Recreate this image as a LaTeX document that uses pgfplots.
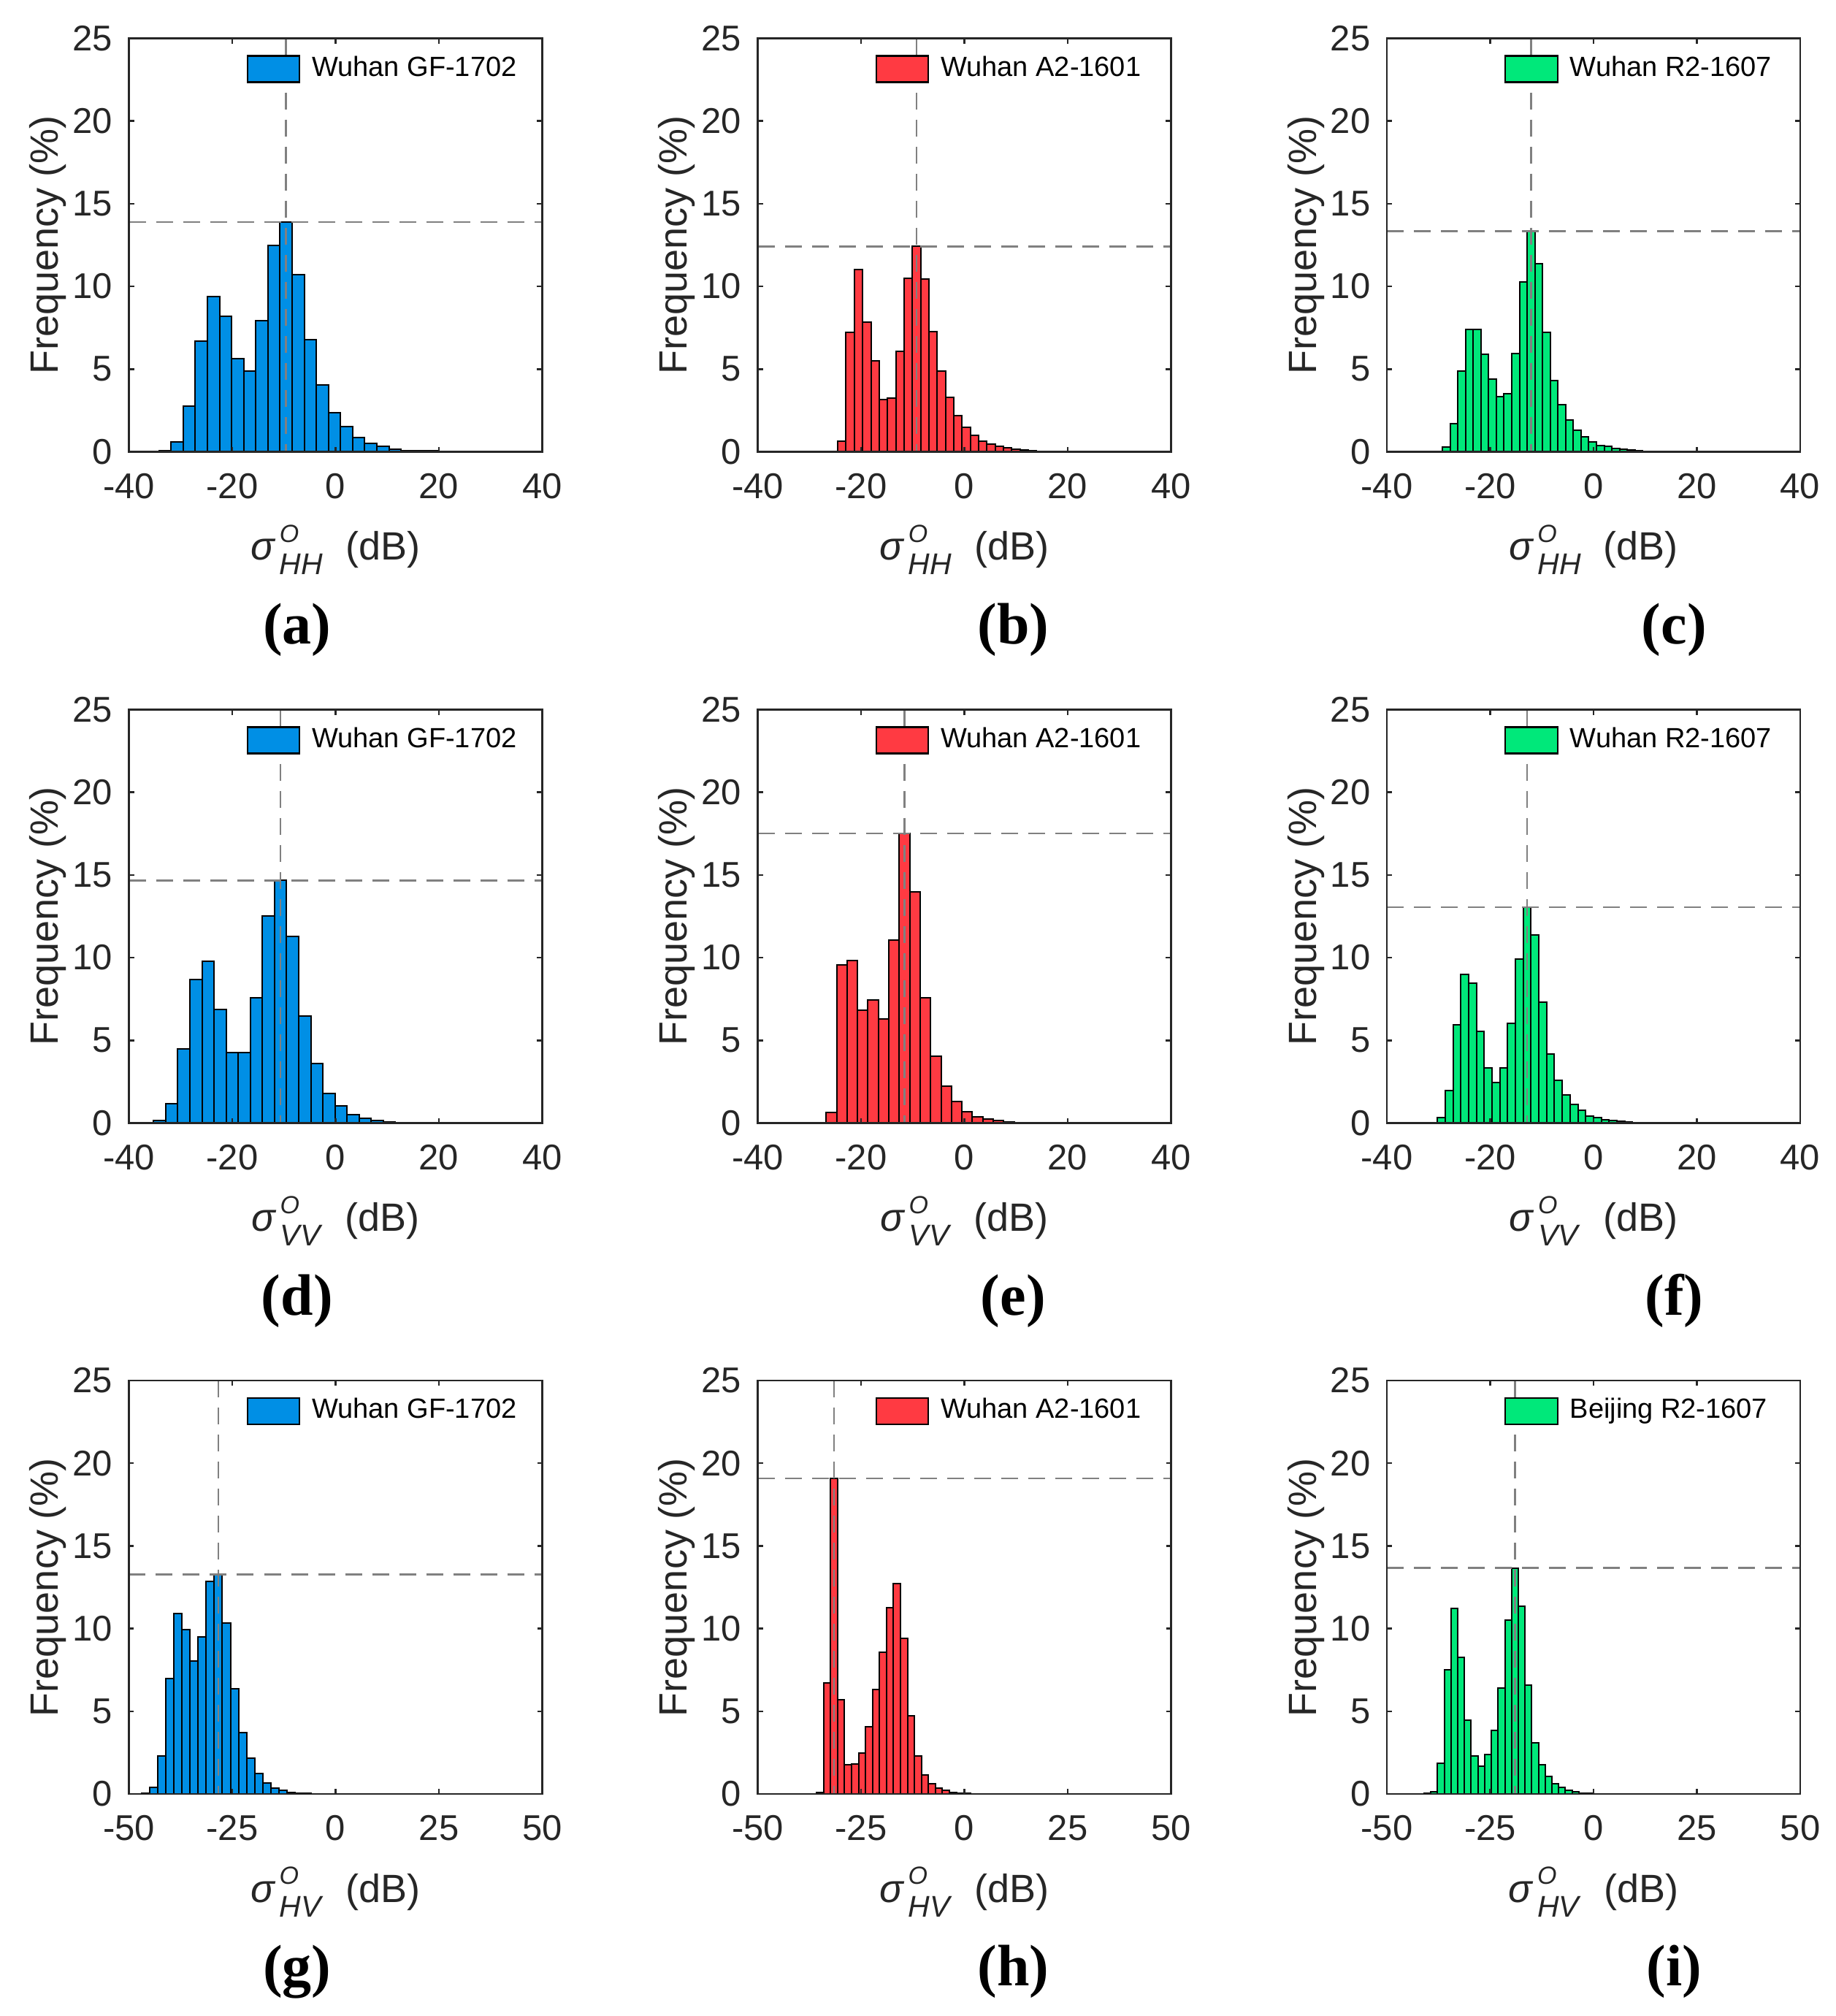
\documentclass[border=0pt]{standalone}
\usepackage{fontspec}
\setmainfont{Liberation Sans}
\newfontfamily\serifbf{Liberation Serif}
\usepackage{pgfplots}
\pgfplotsset{compat=1.18}
\definecolor{axgray}{HTML}{262626}
\definecolor{dashgray}{HTML}{808080}
\definecolor{cblue}{HTML}{008FE5}
\definecolor{cred}{HTML}{FF3A42}
\definecolor{cgreen}{HTML}{00E87A}
\newcommand{\sig}[1]{\textit{σ}\kern1pt\rlap{\raisebox{4.9pt}{\fontsize{6.8}{7}\selectfont\textit{O}}}\raisebox{-4pt}{\fontsize{8.2}{9}\selectfont\textit{#1}}\hspace{6.2pt}(dB)}
\pgfplotsset{
 myhist/.style={
  scale only axis, width=113.2pt, height=113.2pt,
  ymin=0, ymax=25, ytick={0,5,10,15,20,25},
  yticklabels={0,5,10,15,20,25},
  tick align=inside, major tick length=1.4pt,
  axis line style={draw=axgray, line width=0.5pt},
  tick style={draw=axgray, line width=0.5pt},
  tick label style={font=\fontsize{9.8}{11}\selectfont, text=axgray},
  xticklabel style={yshift=-2.4pt},
  yticklabel style={xshift=-1pt},
  axis on top,
  every axis y label/.style={at={(axis description cs:-0.196,0.5)}, rotate=90, anchor=center, font=\fontsize{10.8}{13}\selectfont, text=axgray},
  every axis x label/.style={at={(axis description cs:0.5,-0.262)}, anchor=base, inner sep=0pt, font=\fontsize{10.8}{13}\selectfont, text=axgray},
  every axis title/.style={anchor=center, inner sep=0pt, font=\serifbf\bfseries\fontsize{16}{18}\selectfont, text=black},
  ylabel={Frequency (\%)},
  legend style={draw=none, fill=none, inner xsep=0pt, inner ysep=0pt, at={(axis description cs:0.283,0.926)}, anchor=west, font=\fontsize{7.6}{9}\selectfont, nodes={inner sep=2pt}},
 },
 row12/.style={xmin=-40,xmax=40, xtick={-40,-20,0,20,40}, xticklabels={-40,-20,0,20,40}},
 row3/.style={xmin=-50,xmax=50, xtick={-50,-25,0,25,50}, xticklabels={-50,-25,0,25,50}},
 histbar/.style={ybar interval, fill=#1, draw=black, line width=0.4pt, legend image code/.code={\draw[fill=#1, draw=black, line width=0.45pt] (0pt,-3.6pt) rectangle (14.3pt,3.6pt); \path (15.5pt,0pt);}},
 refline/.style={forget plot, draw=dashgray, line width=0.5pt, dash pattern=on 4.6pt off 2.8pt},
 colA/.style={title style={at={(axis description cs:0.407,-0.43)}}},
 colB/.style={title style={at={(axis description cs:0.618,-0.43)}}},
 colC/.style={title style={at={(axis description cs:0.695,-0.43)}}},
}
\begin{document}
\begin{tikzpicture}
\useasboundingbox (0,0) rectangle (502.8pt,-552pt);
% ---------- (a)
\begin{axis}[myhist,row12,colA, at={(35.3pt,-10.5pt)}, anchor=north west, xlabel={\sig{HH}}, title={(a)}]
\addplot[histbar=cblue] coordinates {(-36.52,0.03) (-34.18,0.08) (-31.83,0.61) (-29.49,2.74) (-27.15,6.70) (-24.81,9.40) (-22.46,8.20) (-20.12,5.64) (-17.78,4.88) (-15.43,7.93) (-13.09,12.49) (-10.75,13.90) (-8.40,10.72) (-6.06,6.79) (-3.72,4.05) (-1.38,2.38) (0.97,1.53) (3.31,0.86) (5.65,0.52) (8.00,0.31) (10.34,0.16) (12.68,0.08) (15.03,0.06) (17.37,0.05) (19.71,0.04) (22.06,0.03) (24.40,0.03) (26.74,0.02) (29.08,0.02) (31.43,0.02) (33.77,0)};
\addlegendentry{Wuhan GF-1702}
\addplot[refline] coordinates {(-9.58,25) (-9.58,0)};
\addplot[refline] coordinates {(-40,13.90) (40,13.90)};
\end{axis}
% ---------- (b)
\begin{axis}[myhist,row12,colB, at={(207.5pt,-10.5pt)}, anchor=north west, xlabel={\sig{HH}}, title={(b)}]
\addplot[histbar=cred] coordinates {(-24.50,0.63) (-22.90,7.21) (-21.29,11.03) (-19.69,7.84) (-18.09,5.52) (-16.49,3.17) (-14.88,3.26) (-13.28,6.07) (-11.68,10.49) (-10.07,12.42) (-8.47,10.45) (-6.87,7.28) (-5.26,4.87) (-3.66,3.28) (-2.06,2.20) (-0.46,1.48) (1.15,1.01) (2.75,0.63) (4.35,0.47) (5.96,0.34) (7.56,0.23) (9.16,0.16) (10.77,0.09) (12.37,0.05) (13.97,0.04) (15.58,0.03) (17.18,0.03) (18.78,0.02) (20.38,0.02) (21.99,0.02) (23.59,0)};
\addlegendentry{Wuhan A2-1601}
\addplot[refline] coordinates {(-9.27,25) (-9.27,0)};
\addplot[refline] coordinates {(-40,12.42) (40,12.42)};
\end{axis}
% ---------- (c)
\begin{axis}[myhist,row12,colC, at={(379.8pt,-10.5pt)}, anchor=north west, xlabel={\sig{HH}}, title={(c)}]
\addplot[histbar=cgreen] coordinates {(-30.73,0.03) (-29.24,0.27) (-27.75,1.71) (-26.26,4.89) (-24.77,7.41) (-23.28,7.41) (-21.79,5.91) (-20.30,4.38) (-18.81,3.32) (-17.32,3.52) (-15.83,5.95) (-14.34,10.27) (-12.85,13.34) (-11.36,11.36) (-9.87,7.23) (-8.38,4.29) (-6.89,2.87) (-5.40,1.91) (-3.91,1.32) (-2.42,0.90) (-0.93,0.61) (0.56,0.38) (2.05,0.31) (3.54,0.22) (5.03,0.16) (6.52,0.09) (8.01,0.07) (9.50,0.04) (10.99,0.03) (12.48,0.02) (13.97,0)};
\addlegendentry{Wuhan R2-1607}
\addplot[refline] coordinates {(-12.11,25) (-12.11,0)};
\addplot[refline] coordinates {(-40,13.34) (40,13.34)};
\end{axis}
% ---------- (d)
\begin{axis}[myhist,row12,colA, at={(35.3pt,-194.3pt)}, anchor=north west, xlabel={\sig{VV}}, title={(d)}]
\addplot[histbar=cblue] coordinates {(-35.22,0.17) (-32.88,1.19) (-30.54,4.49) (-28.20,8.69) (-25.86,9.79) (-23.52,6.88) (-21.18,4.25) (-18.84,4.25) (-16.50,7.59) (-14.16,12.53) (-11.82,14.67) (-9.48,11.28) (-7.14,6.47) (-4.80,3.59) (-2.46,1.81) (-0.12,1.02) (2.22,0.49) (4.56,0.27) (6.90,0.15) (9.24,0.07) (11.58,0.04) (13.92,0.03) (16.26,0.02) (18.60,0.02) (20.94,0.02) (23.28,0.01) (25.62,0.01) (27.96,0.01) (30.30,0.01) (32.64,0.01) (34.98,0)};
\addlegendentry{Wuhan GF-1702}
\addplot[refline] coordinates {(-10.65,25) (-10.65,0)};
\addplot[refline] coordinates {(-40,14.67) (40,14.67)};
\end{axis}
% ---------- (e)
\begin{axis}[myhist,row12,colB, at={(207.5pt,-194.3pt)}, anchor=north west, xlabel={\sig{VV}}, title={(e)}]
\addplot[histbar=cred] coordinates {(-26.74,0.64) (-24.72,9.55) (-22.70,9.82) (-20.68,6.84) (-18.66,7.43) (-16.64,6.30) (-14.62,11.08) (-12.60,17.51) (-10.58,13.96) (-8.56,7.59) (-6.54,4.05) (-4.52,2.24) (-2.50,1.29) (-0.48,0.68) (1.54,0.36) (3.56,0.24) (5.58,0.15) (7.60,0.07) (9.62,0.04) (11.64,0.03) (13.66,0.02) (15.68,0.02) (17.70,0.01) (19.72,0.01) (21.74,0.01) (23.76,0.01) (25.78,0.01) (27.80,0.01) (29.82,0.01) (31.84,0.01) (33.86,0)};
\addlegendentry{Wuhan A2-1601}
\addplot[refline] coordinates {(-11.59,25) (-11.59,0)};
\addplot[refline] coordinates {(-40,17.51) (40,17.51)};
\end{axis}
% ---------- (f)
\begin{axis}[myhist,row12,colC, at={(379.8pt,-194.3pt)}, anchor=north west, xlabel={\sig{VV}}, title={(f)}]
\addplot[histbar=cgreen] coordinates {(-30.22,0.32) (-28.71,1.95) (-27.20,5.95) (-25.69,8.99) (-24.18,8.47) (-22.67,5.56) (-21.16,3.35) (-19.65,2.44) (-18.14,3.32) (-16.63,6.03) (-15.12,9.91) (-13.61,13.06) (-12.10,11.38) (-10.59,7.32) (-9.08,4.17) (-7.57,2.59) (-6.06,1.68) (-4.55,1.12) (-3.04,0.76) (-1.53,0.44) (-0.02,0.32) (1.49,0.20) (3.00,0.15) (4.51,0.10) (6.02,0.05) (7.53,0.03) (9.04,0.02) (10.55,0.02) (12.06,0.01) (13.57,0.01) (15.08,0)};
\addlegendentry{Wuhan R2-1607}
\addplot[refline] coordinates {(-12.86,25) (-12.86,0)};
\addplot[refline] coordinates {(-40,13.06) (40,13.06)};
\end{axis}
% ---------- (g)
\begin{axis}[myhist,row3,colA, at={(35.3pt,-378.0pt)}, anchor=north west, xlabel={\sig{HV}}, title={(g)}]
\addplot[histbar=cblue] coordinates {(-46.91,0.05) (-44.96,0.41) (-43.01,2.30) (-41.05,6.99) (-39.10,10.93) (-37.15,9.95) (-35.20,8.03) (-33.24,9.51) (-31.29,12.87) (-29.34,13.28) (-27.39,10.35) (-25.44,6.36) (-23.49,3.72) (-21.53,2.17) (-19.58,1.23) (-17.63,0.66) (-15.68,0.36) (-13.73,0.22) (-11.77,0.10) (-9.82,0.05) (-7.87,0.03) (-5.92,0.02) (-3.97,0.02) (-2.01,0.01) (-0.06,0.01) (1.89,0.01) (3.84,0.01) (5.79,0.01) (7.75,0.01) (9.70,0.01) (11.65,0)};
\addlegendentry{Wuhan GF-1702}
\addplot[refline] coordinates {(-28.36,25) (-28.36,0)};
\addplot[refline] coordinates {(-50,13.28) (50,13.28)};
\end{axis}
% ---------- (h)
\begin{axis}[myhist,row3,colB, at={(207.5pt,-378.0pt)}, anchor=north west, xlabel={\sig{HV}}, title={(h)}]
\addplot[histbar=cred] coordinates {(-35.74,0.10) (-34.05,6.73) (-32.36,19.08) (-30.67,5.72) (-28.98,1.78) (-27.29,1.83) (-25.60,2.49) (-23.91,4.08) (-22.22,6.33) (-20.53,8.59) (-18.84,11.28) (-17.15,12.70) (-15.46,9.39) (-13.77,4.72) (-12.08,2.30) (-10.39,1.15) (-8.70,0.61) (-7.01,0.34) (-5.32,0.20) (-3.63,0.10) (-1.94,0.06) (-0.25,0.04) (1.44,0.02) (3.13,0.02) (4.82,0.01) (6.51,0.01) (8.20,0.01) (9.89,0.01) (11.58,0.01) (13.27,0.01) (14.96,0)};
\addlegendentry{Wuhan A2-1601}
\addplot[refline] coordinates {(-31.52,25) (-31.52,0)};
\addplot[refline] coordinates {(-50,19.08) (50,19.08)};
\end{axis}
% ---------- (i)
\begin{axis}[myhist,row3,colC, at={(379.8pt,-378.0pt)}, anchor=north west, xlabel={\sig{HV}}, title={(i)}]
\addplot[histbar=cgreen] coordinates {(-40.99,0.03) (-39.36,0.14) (-37.74,1.86) (-36.11,7.53) (-34.48,11.20) (-32.86,8.25) (-31.23,4.47) (-29.60,2.30) (-27.97,1.69) (-26.35,2.38) (-24.72,3.84) (-23.09,6.41) (-21.47,10.52) (-19.84,13.67) (-18.21,11.37) (-16.59,6.60) (-14.96,3.08) (-13.33,1.78) (-11.70,1.07) (-10.08,0.64) (-8.45,0.39) (-6.82,0.20) (-5.20,0.14) (-3.57,0.06) (-1.94,0.03) (-0.32,0.02) (1.31,0.02) (2.94,0.01) (4.57,0.01) (6.19,0.01) (7.82,0)};
\addlegendentry{Beijing R2-1607}
\addplot[refline] coordinates {(-19.03,25) (-19.03,0)};
\addplot[refline] coordinates {(-50,13.67) (50,13.67)};
\end{axis}
\end{tikzpicture}
\end{document}
